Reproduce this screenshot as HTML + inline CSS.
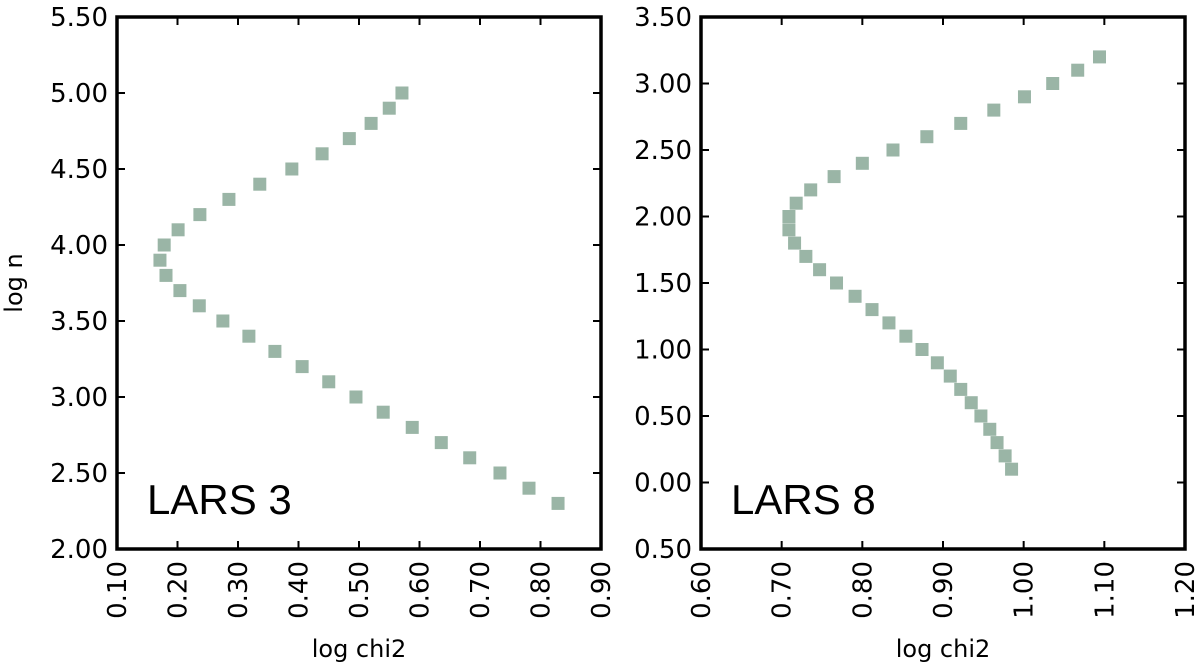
<!DOCTYPE html>
<html><head><meta charset="utf-8"><style>
body{margin:0;background:#fff}
svg{display:block;font-family:"DejaVu Sans","Liberation Sans",sans-serif}
</style></head><body>
<svg id="chart" width="1200" height="668" viewBox="0 0 1200 668"></svg>
<script>
const leftX=[0.571,0.55,0.52,0.484,0.439,0.389,0.336,0.285,0.237,0.201,0.178,0.171,0.181,0.204,0.236,0.275,0.318,0.361,0.406,0.45,0.495,0.54,0.588,0.636,0.683,0.733,0.781,0.829];
const leftY=[5.0,4.9,4.8,4.7,4.6,4.5,4.4,4.3,4.2,4.1,4.0,3.9,3.8,3.7,3.6,3.5,3.4,3.3,3.2,3.1,3.0,2.9,2.8,2.7,2.6,2.5,2.4,2.3];
const rightX=[1.094,1.067,1.036,1.001,0.963,0.922,0.88,0.838,0.8,0.765,0.736,0.718,0.709,0.709,0.716,0.73,0.747,0.768,0.791,0.812,0.833,0.854,0.874,0.893,0.909,0.922,0.935,0.947,0.958,0.967,0.977,0.985];
const rightY=[3.2,3.1,3.0,2.9,2.8,2.7,2.6,2.5,2.4,2.3,2.2,2.1,2.0,1.9,1.8,1.7,1.6,1.5,1.4,1.3,1.2,1.1,1.0,0.9,0.8,0.7,0.6,0.5,0.4,0.3,0.2,0.1];
const leftXTicks=[0.1,0.2,0.3,0.4,0.5,0.6,0.7,0.8,0.9];
const leftXLabels=["0.10","0.20","0.30","0.40","0.50","0.60","0.70","0.80","0.90"];
const leftYTicks=[2.0,2.5,3.0,3.5,4.0,4.5,5.0,5.5];
const leftYLabels=["2.00","2.50","3.00","3.50","4.00","4.50","5.00","5.50"];
const rightXTicks=[0.6,0.7,0.8,0.9,1.0,1.1,1.2];
const rightXLabels=["0.60","0.70","0.80","0.90","1.00","1.10","1.20"];
const rightYTicks=[-0.5,0,0.5,1.0,1.5,2.0,2.5,3.0,3.5];
const rightYLabels=["0.50","0.00","0.50","1.00","1.50","2.00","2.50","3.00","3.50"];

const svg=document.getElementById('chart');
const NS='http://www.w3.org/2000/svg';
function mk(tag,attrs,parent){const e=document.createElementNS(NS,tag);for(const k in attrs)e.setAttribute(k,attrs[k]);(parent||svg).appendChild(e);return e;}

function panel(p){
  const g=mk('g',{});
  
  
  const sx=v=>p.x0+(v-p.xmin)/(p.xmax-p.xmin)*(p.x1-p.x0);
  const sy=v=>p.y1-(v-p.ymin)/(p.ymax-p.ymin)*(p.y1-p.y0);
  // points
  for(let i=0;i<p.xs.length;i++){
    const r=mk('rect',{x:sx(p.xs[i])-6.5,y:sy(p.ys[i])-6.5,width:13,height:13,fill:'#9ab5a6'},g);
    
    
  }
  // ticks
  p.xt.forEach((v,i)=>{
    const x=sx(v);
    mk('line',{x1:x,x2:x,y1:p.y1,y2:p.y1-8,stroke:'#000','stroke-width':2},g);
    mk('line',{x1:x,x2:x,y1:p.y0,y2:p.y0+8,stroke:'#000','stroke-width':2},g);
    const t=mk('text',{x:x+9,y:p.y1+12,'font-size':26,'text-anchor':'end',transform:`rotate(-90 ${x+9} ${p.y1+12})`},g);
    t.textContent=p.xl[i];
    
    
  });
  p.yt.forEach((v,i)=>{
    const y=sy(v);
    mk('line',{x1:p.x0,x2:p.x0+8,y1:y,y2:y,stroke:'#000','stroke-width':2},g);
    mk('line',{x1:p.x1,x2:p.x1-8,y1:y,y2:y,stroke:'#000','stroke-width':2},g);
    const t=mk('text',{x:p.x0-9,y:y+9,'font-size':26,'text-anchor':'end'},g);
    t.textContent=p.yl[i];
    
    
  });
  const f=mk('rect',{x:p.x0,y:p.y0,width:p.x1-p.x0,height:p.y1-p.y0,fill:'none',stroke:'#000','stroke-width':3.5},g);
  
  
  const lab=mk('text',{x:p.x0+30,y:514,'font-size':42,'font-family':'Liberation Sans, sans-serif'},g);
  lab.textContent=p.label;
  
  
  const xt=mk('text',{x:(p.x0+p.x1)/2,y:657,'font-size':24,'text-anchor':'middle'},g);
  xt.textContent='log chi2';
  
  
}
panel({name:'lars3-panel',x0:117,x1:601,y0:17,y1:549,xmin:0.1,xmax:0.9,ymin:2.0,ymax:5.5,xs:leftX,ys:leftY,xt:leftXTicks,xl:leftXLabels,yt:leftYTicks,yl:leftYLabels,label:'LARS 3'});
panel({name:'lars8-panel',x0:701,x1:1185,y0:17,y1:549,xmin:0.6,xmax:1.2,ymin:-0.5,ymax:3.5,xs:rightX,ys:rightY,xt:rightXTicks,xl:rightXLabels,yt:rightYTicks,yl:rightYLabels,label:'LARS 8'});
const yt=mk('text',{x:22,y:283,'font-size':24,'text-anchor':'middle',transform:'rotate(-90 22 283)'});
yt.textContent='log n';


</script>
</body></html>
